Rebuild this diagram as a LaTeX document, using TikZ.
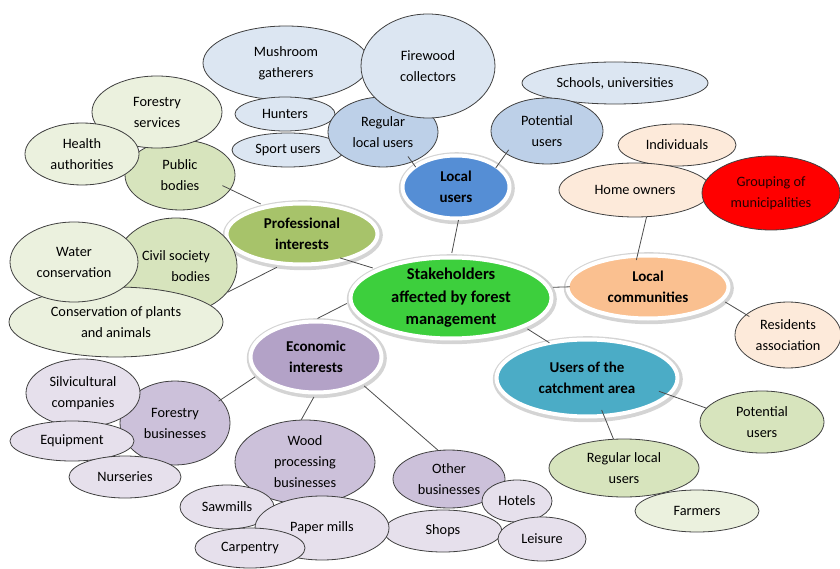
\documentclass[tikz,border=0pt]{standalone}
\usepackage{fontspec}
\setmainfont{Carlito}
\usetikzlibrary{shapes.geometric}

% fills
\definecolor{blueL}{HTML}{DCE6F2}
\definecolor{blueM}{HTML}{BDD0E8}
\definecolor{blueHub}{HTML}{558ED5}
\definecolor{peachL}{HTML}{FDEADA}
\definecolor{orangeHub}{HTML}{FAC090}
\definecolor{redF}{HTML}{FF0000}
\definecolor{greenHub}{HTML}{3DCF3D}
\definecolor{tealHub}{HTML}{4BACC6}
\definecolor{greenL}{HTML}{EBF1DE}
\definecolor{greenM}{HTML}{D7E4BD}
\definecolor{oliveHub}{HTML}{A7C36A}
\definecolor{purpleHub}{HTML}{B3A2C7}
\definecolor{purpleM}{HTML}{CCC1DA}
\definecolor{purpleL}{HTML}{E6E0EC}

\begin{document}
\begin{tikzpicture}[x=1pt, y=-1pt,
  sz/.style 2 args={minimum width=#1pt, minimum height=#2pt},
  bub/.style={ellipse, draw=black!75, line width=0.8pt, inner sep=-12pt,
    align=center, text=black, font=\fontsize{14.3}{21}\selectfont},
  hub/.style={ellipse, inner sep=-12pt, outer sep=4.5pt, align=center,
    font=\fontsize{15}{20.5}\selectfont\bfseries,
    draw=white, line width=4pt,
    preaction={draw=black!17, line width=9pt,
      transform canvas={shift={(0.8pt,-1.2pt)}}}},
  conn/.style={draw=black!70, line width=0.8pt}
]
\useasboundingbox (0,0) rectangle (840,569);

% ---- local users branch
\node[bub, fill=blueL, sz={166}{74}] (mush) at (286,63) {Mushroom\\gatherers};
\node[bub, fill=blueL, sz={100}{34}] (hunt) at (285,114) {Hunters};
\node[bub, fill=blueL, sz={112}{34}] (sport) at (288,150) {Sport users};
\node[bub, fill=blueM, sz={110}{70}] (regB) at (383,132) {Regular\\local users};
\node[bub, fill=blueL, sz={134}{104}] (fire) at (428,66) {Firewood\\collectors};
\node[bub, fill=blueL, sz={186}{42}] (school) at (615,83) {Schools, universities};
\node[bub, fill=blueM, sz={112}{66}] (potB) at (547,131) {Potential\\users};
\node[hub, fill=blueHub, sz={107}{63}] (lu) at (456,187) {Local\\users};

% ---- local communities branch
\node[bub, fill=peachL, sz={118}{42}] (indiv) at (677,145) {Individuals};
\node[bub, fill=peachL, sz={152}{54}] (home) at (635,190) {Home owners};
\node[bub, fill=redF, sz={138}{74}, text=black!85!red] (group) at (771,193) {Grouping of\\municipalities};
\node[hub, fill=orangeHub, sz={161}{63}] (lc) at (648,287) {Local\\communities};
\node[bub, fill=peachL, sz={106}{66}] (res) at (788,335) {Residents\\association};

% ---- catchment area branch
\node[hub, fill=tealHub, sz={181}{77}] (catch) at (587,378) {Users of the\\catchment area};
\node[bub, fill=greenL, sz={124}{42}] (farm) at (697,511) {Farmers};
\node[bub, fill=greenM, sz={150}{58}] (regG) at (624,468) {Regular local\\users};
\node[bub, fill=greenM, sz={124}{62}] (potG) at (762,422) {Potential\\users};

% ---- professional interests branch
\node[bub, fill=greenM, sz={110}{70}] (pub) at (180,175) {Public\\bodies};
\node[bub, fill=greenL, sz={130}{72}] (forserv) at (157,112) {Forestry\\services};
\node[bub, fill=greenL, sz={114}{62}] (health) at (82,154) {Health\\authorities};
\node[hub, fill=oliveHub, sz={151}{61}] (prof) at (302,234) {Professional\\interests};
\node[bub, fill=greenM, sz={122}{96}, align=right] (civil) at (176,266) {Civil society\\bodies};
\node[bub, fill=greenL, sz={214}{70}] (cons) at (116,322) {Conservation of plants\\and animals};
\node[bub, fill=greenL, sz={128}{80}] (water) at (74,262) {Water\\conservation};

% ---- economic interests branch
\node[bub, fill=purpleM, sz={110}{84}] (fb) at (175,423) {Forestry\\businesses};
\node[bub, fill=purpleL, sz={114}{68}] (silvi) at (83,393) {Silvicultural\\companies};
\node[bub, fill=purpleL, sz={124}{40}] (equip) at (72,441) {Equipment};
\node[bub, fill=purpleL, sz={112}{42}] (nurs) at (125,477) {Nurseries};
\node[hub, fill=purpleHub, sz={131}{71}] (econ) at (316,357) {Economic\\interests};
\node[bub, fill=purpleM, sz={140}{84}] (wood) at (305,462) {Wood\\processing\\businesses};
\node[bub, fill=purpleL, sz={94}{44}] (saw) at (227,507) {Sawmills};
\node[bub, fill=purpleL, sz={118}{42}] (shops) at (443,531) {Shops};
\node[bub, fill=purpleL, sz={134}{64}] (paper) at (322,528) {Paper mills};
\node[bub, fill=purpleL, sz={110}{40}] (carp) at (250,548) {Carpentry};
\node[bub, fill=purpleM, sz={112}{58}] (other) at (449,479) {Other\\businesses};
\node[bub, fill=purpleL, sz={70}{42}] (hotels) at (517,501) {Hotels};
\node[bub, fill=purpleL, sz={88}{44}] (leisure) at (542,539) {Leisure};

% ---- central node
\node[hub, fill=greenHub, sz={201}{81}, font=\fontsize{16.5}{22.5}\selectfont\bfseries] (stake) at (451,298)
  {Stakeholders\\affected by forest\\management};

% ---- connectors
\draw[conn, shorten <=-3pt] (lu.-87) -- (stake.89);
\draw[conn, shorten <=-6pt, shorten >=-5pt] (lu.29) -- (potB.-151);
\draw[conn, shorten <=-7pt, shorten >=-5pt] (regB.-46) -- (lu.151);
\draw[conn, shorten >=-9pt] (prof.144) -- (pub.-16);
\draw[conn, shorten <=-12pt] (prof.-29) -- (stake.159);
\draw[conn] (prof.-127) -- (civil.-27);
\draw[conn, shorten >=-7pt] (stake.6) -- (lc.180);
\draw[conn, shorten <=-9pt] (lc.105) -- (home.-67);
\draw[conn, shorten >=-4pt] (lc.-11) -- (res.154);
\draw[conn, shorten >=-6pt] (stake.-22) -- (catch.138);
\draw[conn, shorten <=-15pt] (catch.-12) -- (potG.166);
\draw[conn, shorten <=-11pt] (catch.-66) -- (regG.110);
\draw[conn, shorten >=-3pt] (stake.-177) -- (econ.84);
\draw[conn, shorten >=-3pt] (econ.-162) -- (fb.27);
\draw[conn] (econ.-93) -- (wood.95);
\draw[conn] (econ.-31) -- (other.111);
\end{tikzpicture}
\end{document}
